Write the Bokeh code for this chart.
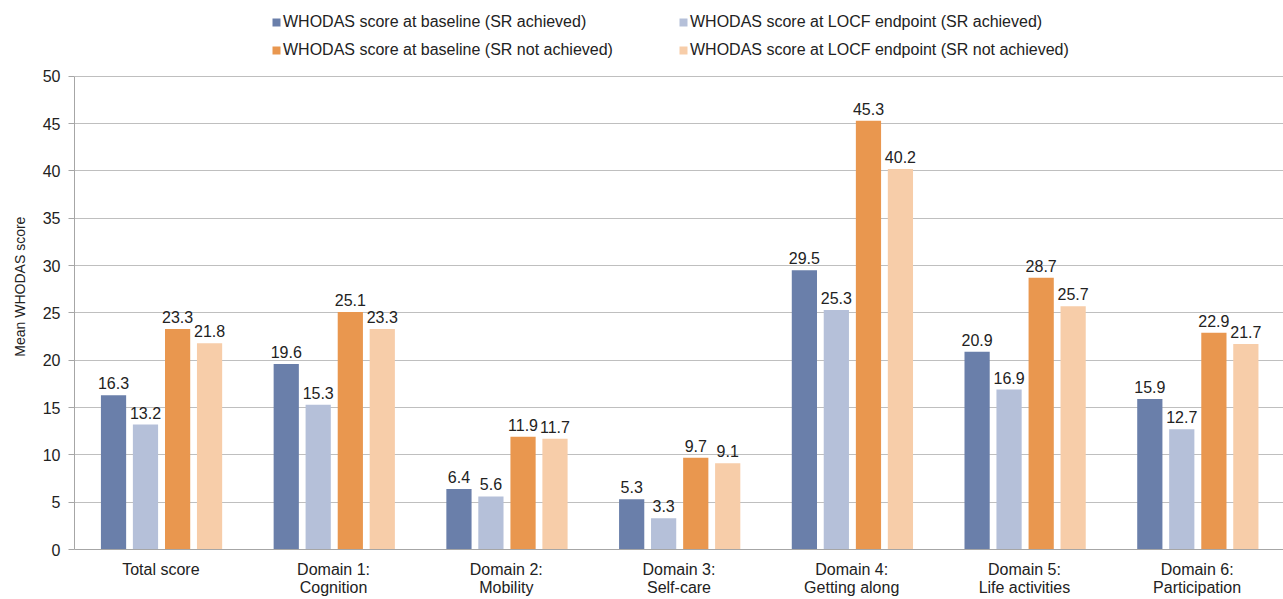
from bokeh.plotting import figure
from bokeh.models import ColumnDataSource, Legend, LegendItem, FixedTicker, Range1d
from bokeh.transform import dodge
from bokeh.core.properties import value
from bokeh.embed import file_html
from bokeh.resources import INLINE

categories = ["Total score", "Domain 1:\nCognition", "Domain 2:\nMobility", "Domain 3:\nSelf-care",
              "Domain 4:\nGetting along", "Domain 5:\nLife activities", "Domain 6:\nParticipation"]
baseline_sr = [16.3, 19.6, 6.4, 5.3, 29.5, 20.9, 15.9]
locf_sr = [13.2, 15.3, 5.6, 3.3, 25.3, 16.9, 12.7]
baseline_nsr = [23.3, 25.1, 11.9, 9.7, 45.3, 28.7, 22.9]
locf_nsr = [21.8, 23.3, 11.7, 9.1, 40.2, 25.7, 21.7]
series_names = ["WHODAS score at baseline (SR achieved)", "WHODAS score at LOCF endpoint (SR achieved)",
                "WHODAS score at baseline (SR not achieved)", "WHODAS score at LOCF endpoint (SR not achieved)"]
colors = ["#6A7FAA", "#B5C0D9", "#E9974F", "#F7CDA9"]
y_ticks = list(range(0, 51, 5))
y_label = "Mean WHODAS score"
FONT = "Liberation Sans"

W, H = 1283, 599
BOTTOM, LEFT = 48, 74
FRAME_H = H - BOTTOM          # frame spans from the top of the canvas
Y_MAX = 50 * FRAME_H / 475.0  # so that 50 sits 76px below the top

xs = [i + 0.5 for i in range(len(categories))]
src = ColumnDataSource(dict(x=xs, a=baseline_sr, b=locf_sr, c=baseline_nsr, d=locf_nsr,
                            at=[f"{v:.1f}" for v in baseline_sr], bt=[f"{v:.1f}" for v in locf_sr],
                            ct=[f"{v:.1f}" for v in baseline_nsr], dt=[f"{v:.1f}" for v in locf_nsr]))

p = figure(width=W, height=H, output_backend="svg", toolbar_location=None,
           x_range=Range1d(0, 7), y_range=Range1d(0, Y_MAX),
           min_border_left=LEFT, min_border_right=0, min_border_top=0, min_border_bottom=BOTTOM)
p.outline_line_color = None

offsets = [-0.274, -0.089, 0.097, 0.282]
cols = ["a", "b", "c", "d"]
renderers = []
for off, col, colr in zip(offsets, cols, colors):
    r = p.vbar(x=dodge("x", off, range=p.x_range), top=col, width=0.146, source=src,
               fill_color=colr, line_color=None)
    renderers.append(r)
    p.text(x=dodge("x", off, range=p.x_range), y=col, text=col + "t", source=src,
           text_font=value(FONT), text_font_size="16px", text_color="#222222",
           text_align="center", text_baseline="bottom", y_offset=-6)

items = [LegendItem(label=n, renderers=[r]) for n, r in zip(series_names, renderers)]
legend = Legend(items=items, ncols=2, location=(197, FRAME_H - 61), orientation="horizontal",
                label_text_font=FONT, label_text_font_size="16px", label_text_color="#222222",
                glyph_width=10, glyph_height=10, label_standoff=2, spacing=10,
                padding=4, margin=0, border_line_color=None, background_fill_alpha=0,
                label_height=18, label_width=385)
p.add_layout(legend, "center")

p.xaxis.ticker = FixedTicker(ticks=xs)
p.xaxis.major_label_overrides = {x: c for x, c in zip(xs, categories)}
p.xaxis.major_tick_line_color = None
p.xaxis.minor_tick_line_color = None
p.xaxis.axis_line_color = "#A6A6A6"
p.xaxis.major_label_text_font = FONT
p.xaxis.major_label_text_font_size = "16px"
p.xaxis.major_label_text_color = "#222222"
p.xaxis.major_label_text_line_height = 1.1
p.xaxis.major_label_standoff = 5
p.xgrid.grid_line_color = None

p.yaxis.ticker = FixedTicker(ticks=y_ticks)
p.yaxis.bounds = (0, 50)
p.yaxis.axis_line_color = "#A6A6A6"
p.yaxis.major_tick_line_color = "#A6A6A6"
p.yaxis.major_tick_out = 6
p.yaxis.major_tick_in = 0
p.yaxis.minor_tick_line_color = None
p.yaxis.major_label_text_font = FONT
p.yaxis.major_label_text_font_size = "16px"
p.yaxis.major_label_text_color = "#222222"
p.yaxis.major_label_standoff = 8
# trailing no-break spaces push the visible label down to the centre of the 0-50 axis
p.yaxis.axis_label = y_label + "\u00a0" * 6
p.yaxis.axis_label_text_font = FONT
p.yaxis.axis_label_text_font_size = "14px"
p.yaxis.axis_label_text_font_style = "normal"
p.yaxis.axis_label_text_color = "#222222"
p.yaxis.axis_label_standoff = 12
p.ygrid.grid_line_color = "#BFBFBF"

open("out.html", "w").write(file_html(p, INLINE))
